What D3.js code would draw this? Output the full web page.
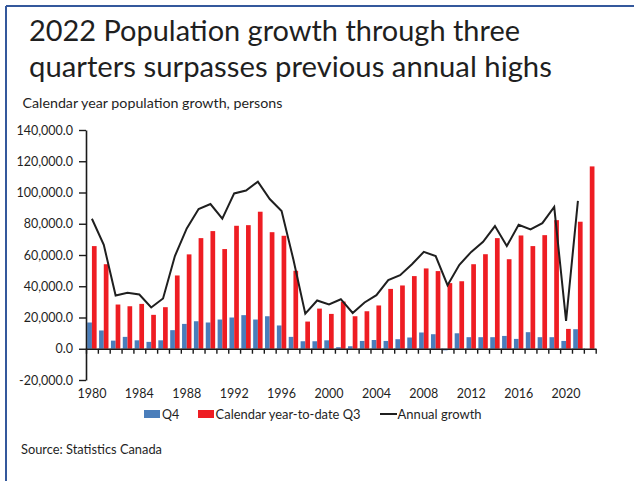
<!DOCTYPE html>
<html>
<head>
<meta charset="utf-8">
<script src="https://cdn.jsdelivr.net/npm/d3@7"></script>
<style>
  html, body { margin: 0; padding: 0; background: #fff; }
  svg { display: block; }
  text { font-family: Lato, "Open Sans", sans-serif; fill: #1f1f1f; }
</style>
</head>
<body>
<svg id="chart" width="634" height="481"></svg>
<script>
// ---------------- data ----------------
const years = d3.range(1980, 2023);
const q4Values = [16.8, 11.7, 5.2, 7.6, 5.4, 4.4, 5.4, 11.9, 15.9, 17.6,
                  16.8, 18.7, 20.0, 21.5, 18.7, 20.8, 14.9, 7.6, 4.8, 4.8,
                  5.4, 1.0, 1.6, 5.0, 5.6, 5.0, 6.1, 7.2, 10.4, 9.3,
                  -1.0, 9.9, 7.4, 7.4, 7.4, 8.2, 6.3, 10.6, 7.4, 7.4,
                  5.0, 12.5, null].map(v => v == null ? null : v * 1000);
const ytdQ3Values = [65.7, 54.1, 28.3, 27.2, 28.7, 21.7, 26.6, 46.9, 60.4, 70.8,
                  75.3, 63.8, 78.7, 79.1, 87.7, 74.6, 72.3, 49.9, 17.4, 25.7,
                  22.3, 30.2, 20.8, 24.0, 27.7, 38.3, 40.5, 46.5, 51.4, 49.7,
                  42.0, 43.2, 54.1, 60.5, 70.8, 57.3, 72.5, 65.7, 72.7, 82.3,
                  12.7, 81.3, 116.7].map(v => v * 1000);
const annualValues = [83.2, 66.5, 34.1, 35.8, 34.7, 26.4, 32.2, 59.3, 77.0, 89.4,
                  92.6, 83.2, 99.4, 101.3, 106.9, 95.8, 88.1, 57.0, 22.5, 30.9,
                  28.3, 31.7, 22.9, 29.6, 34.3, 43.9, 47.1, 54.1, 62.0, 59.3,
                  40.7, 53.7, 62.0, 68.4, 78.5, 65.7, 79.3, 76.4, 80.4, 90.7,
                  17.8, 94.7, null].map(v => v == null ? null : v * 1000);
const yTicks = d3.range(-20000, 140001, 20000);
const xLabelYears = d3.range(1980, 2023, 4);
const seriesNames = ["Q4", "Calendar year-to-date Q3", "Annual growth"];
const titleLines = ["2022 Population growth through three", "quarters surpasses previous annual highs"];
const subtitle = "Calendar year population growth, persons";
const source = "Source: Statistics Canada";

// ---------------- layout ----------------
const svg = d3.select("#chart");
const plot = { left: 86, right: 595.7, top: 130, bottom: 380 };
const colors = { q4: "#4a7ebb", q3: "#ee1d23", line: "#1f1f1f", axis: "#1a1a1a", frame: "#34589c" };

// frame (top + left border)
svg.append("line").attr("x1", 6).attr("x2", 634).attr("y1", 6).attr("y2", 6)
  .attr("stroke", colors.frame).attr("stroke-width", 2);
svg.append("line").attr("x1", 6).attr("x2", 6).attr("y1", 6).attr("y2", 481)
  .attr("stroke", colors.frame).attr("stroke-width", 2);

function fitText(sel, width) {
  const size = parseFloat(sel.attr("font-size"));
  const w = sel.node().getComputedTextLength();
  sel.attr("font-size", (size * width / w).toFixed(2));
}

// title
const t1 = svg.append("text").attr("x", 29).attr("y", 40.7).attr("font-size", 28).text(titleLines[0]);
fitText(t1, 491);
const t2 = svg.append("text").attr("x", 29).attr("y", 76.5).attr("font-size", 28).text(titleLines[1]);
fitText(t2, 523);
const st = svg.append("text").attr("x", 22.5).attr("y", 108.3).attr("font-size", 14).text(subtitle);
fitText(st, 260);

// scales
const x = d3.scaleBand().domain(years).range([plot.left, plot.right]).padding(0);
const xSub = d3.scaleBand().domain(["q4", "q3"]).range([0, x.bandwidth()]).paddingInner(0).paddingOuter(0.26);
const y = d3.scaleLinear().domain([-20000, 140000]).range([plot.bottom, plot.top]);

// bars
const g = svg.append("g");
g.selectAll("rect.q4").data(years.map((yr, i) => ({ yr, v: q4Values[i] })).filter(d => d.v != null))
  .join("rect").attr("class", "q4")
  .attr("x", d => x(d.yr) + xSub("q4"))
  .attr("width", xSub.bandwidth())
  .attr("y", d => y(Math.max(0, d.v)))
  .attr("height", d => Math.abs(y(d.v) - y(0)))
  .attr("fill", colors.q4);
g.selectAll("rect.q3").data(years.map((yr, i) => ({ yr, v: ytdQ3Values[i] })))
  .join("rect").attr("class", "q3")
  .attr("x", d => x(d.yr) + xSub("q3"))
  .attr("width", xSub.bandwidth())
  .attr("y", d => y(Math.max(0, d.v)))
  .attr("height", d => Math.abs(y(d.v) - y(0)))
  .attr("fill", colors.q3);

// line
const lineGen = d3.line()
  .defined(d => d.v != null)
  .x(d => x(d.yr) + x.bandwidth() / 2)
  .y(d => y(d.v));
g.append("path").datum(years.map((yr, i) => ({ yr, v: annualValues[i] })))
  .attr("d", lineGen).attr("fill", "none")
  .attr("stroke", colors.line).attr("stroke-width", 2).attr("stroke-linejoin", "miter");

// y axis
const fmt = d3.formatLocale({ decimal: ".", thousands: ",", grouping: [3], currency: ["$", ""], minus: "-" }).format(",.1f");
const yAxis = svg.append("g").attr("transform", `translate(${plot.left},0)`)
  .call(d3.axisLeft(y).tickValues(yTicks).tickFormat(fmt).tickSize(7).tickSizeOuter(0).tickPadding(6));
yAxis.select(".domain").attr("stroke", colors.axis).attr("stroke-width", 1.6);
yAxis.selectAll(".tick line").attr("stroke", colors.axis).attr("stroke-width", 1.4);
yAxis.selectAll("text").attr("font-size", 12.5).attr("font-family", "Lato, sans-serif").attr("fill", "#222");

// x axis at zero: tick marks at category boundaries
const xIdx = d3.scaleLinear().domain([0, years.length]).range([plot.left, plot.right]);
const xAxis = svg.append("g").attr("transform", `translate(0,${y(0)})`)
  .call(d3.axisBottom(xIdx).tickValues(d3.range(years.length + 1)).tickFormat("").tickSize(5).tickSizeOuter(0));
xAxis.select(".domain").attr("stroke", colors.axis).attr("stroke-width", 1.6);
xAxis.selectAll(".tick line").attr("stroke", colors.axis).attr("stroke-width", 1.4);

// x labels at bottom
const xLab = svg.append("g").attr("transform", `translate(0,${plot.bottom + 9.5})`)
  .call(d3.axisBottom(x).tickValues(xLabelYears).tickSize(0).tickPadding(0));
xLab.select(".domain").remove();
xLab.selectAll("text").attr("font-size", 12.5).attr("font-family", "Lato, sans-serif").attr("fill", "#222");

// legend
const legY = 419;
const leg = svg.append("g");
leg.append("rect").attr("x", 144).attr("y", legY - 9).attr("width", 16).attr("height", 8).attr("fill", colors.q4);
leg.append("text").attr("x", 162).attr("y", legY).attr("font-size", 12.5).text(seriesNames[0]);
leg.append("rect").attr("x", 198).attr("y", legY - 9).attr("width", 16).attr("height", 8).attr("fill", colors.q3);
const l2 = leg.append("text").attr("x", 215.6).attr("y", legY).attr("font-size", 12.5).text(seriesNames[1]);
fitText(l2, 145);
leg.append("line").attr("x1", 380).attr("x2", 397).attr("y1", legY - 5).attr("y2", legY - 5)
  .attr("stroke", colors.line).attr("stroke-width", 2);
const l3 = leg.append("text").attr("x", 397.6).attr("y", legY).attr("font-size", 12.5).text(seriesNames[2]);
fitText(l3, 84);

// source
const src = svg.append("text").attr("x", 21).attr("y", 453.5).attr("font-size", 12.5).text(source);
fitText(src, 141);
</script>
</body>
</html>
